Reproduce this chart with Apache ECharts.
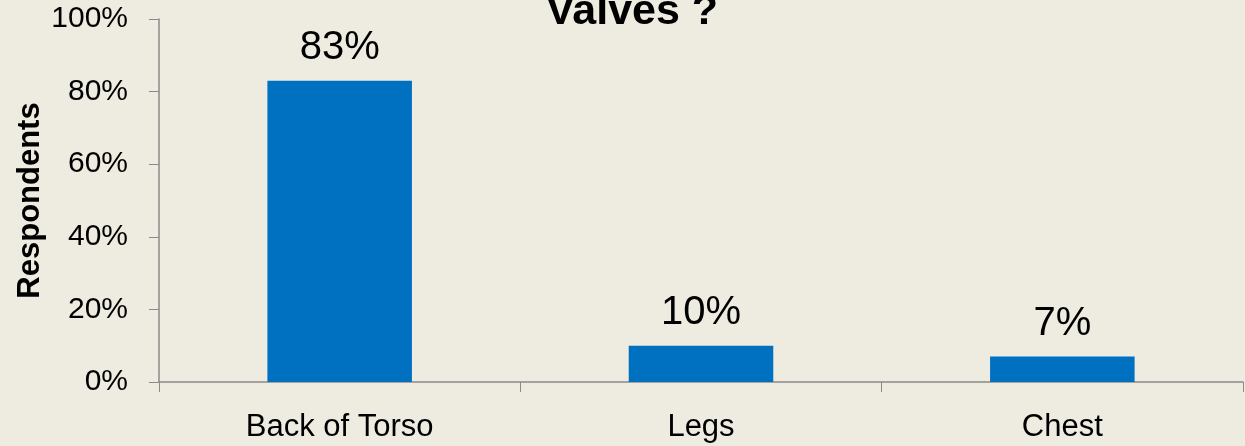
<!DOCTYPE html>
<html><head><meta charset="utf-8">
<script src="https://cdn.jsdelivr.net/npm/echarts@6/dist/echarts.min.js"></script>
<style>html,body{margin:0;padding:0;background:#EEEBE0;}#c{width:1245px;height:446px;}</style>
</head><body><div id="c"></div>
<script>
const categories = ['Back of Torso', 'Legs', 'Chest'];
const values = [83, 10, 7];
const yTicks = [0, 20, 40, 60, 80, 100];
const titleText = 'Valves ?';
const yAxisName = 'Respondents';

const chart = echarts.init(document.getElementById('c'), null, {renderer: 'canvas'});
const font = '"Liberation Sans", Arial, sans-serif';
chart.setOption({
  backgroundColor: '#EEEBE0',
  animation: false,
  title: {
    text: titleText, left: 541, top: -14,
    textStyle: {fontFamily: font, fontSize: 43, fontWeight: 'bold', color: '#000'}
  },
  grid: {left: 159, right: 2, top: 19, bottom: 64, containLabel: false},
  xAxis: {
    type: 'category', data: categories,
    axisLine: {lineStyle: {color: '#8a8a8a', width: 1.5}},
    axisTick: {show: true, length: 10, lineStyle: {color: '#8a8a8a'}},
    axisLabel: {fontFamily: font, fontSize: 31, color: '#000', margin: 30}
  },
  yAxis: {
    type: 'value', min: yTicks[0], max: yTicks[yTicks.length-1], interval: 20,
    name: yAxisName, nameLocation: 'middle', nameGap: 113, nameMoveOverlap: false,
    nameTextStyle: {fontFamily: font, fontSize: 31, fontWeight: 'bold', color: '#000'},
    axisLine: {show: true, lineStyle: {color: '#8a8a8a', width: 1.5}},
    axisTick: {show: true, length: 10, lineStyle: {color: '#8a8a8a'}},
    splitLine: {show: false},
    axisLabel: {fontFamily: font, fontSize: 30, color: '#000', margin: 31, formatter: v => v + '%'}
  },
  series: [{
    type: 'bar', data: values, barWidth: '40%',
    itemStyle: {color: '#0070C0'},
    label: {show: true, position: 'top', distance: 13, formatter: p => p.value + '%',
      fontFamily: font, fontSize: 40, color: '#000'}
  }]
});
</script></body></html>
